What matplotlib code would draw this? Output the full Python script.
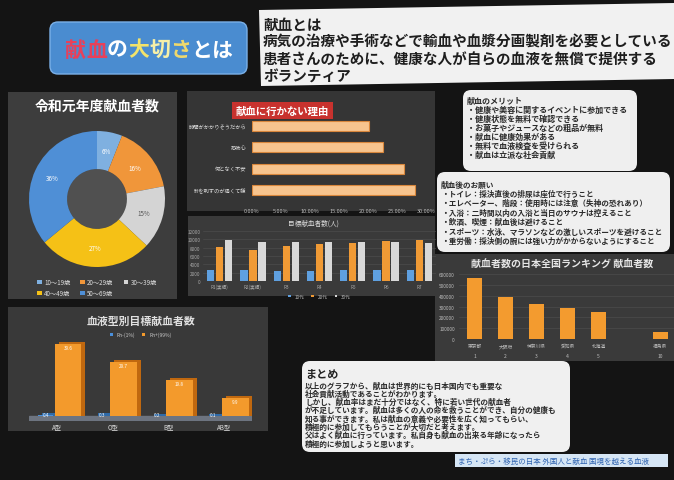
import numpy as np
import matplotlib
matplotlib.use('Agg')
import matplotlib.pyplot as plt
from matplotlib.patches import FancyBboxPatch, Polygon, Rectangle, Circle

plt.rcParams['font.family'] = ['Noto Sans CJK JP', 'DejaVu Sans']

W, H = 674, 481

# ---------------- data ----------------
title_chars = ['献', '血', 'の', '大', '切', 'さ', 'と', 'は']
title_colors = ['#e8405a', '#e8405a', '#ffffff', '#f3e36a', '#f6f0a8', '#efd86c', '#ffffff', '#ffffff']

intro_lines = ['献血とは',
               '病気の治療や手術などで輸血や血漿分画製剤を必要としている',
               '患者さんのために、健康な人が自らの血液を無償で提供する',
               'ボランティア']

age_groups = ['10〜19歳', '20〜29歳', '30〜39歳', '40〜49歳', '50〜69歳']
age_share = [6, 16, 15, 27, 36]
age_colors = ['#7fb0e0', '#f0963a', '#d4d4d4', '#f5c116', '#4f8fd6']

reasons = ['時間がかかりそうだから', '恐怖心', '何となく不安', '針を刺すのが痛くて嫌']
reason_share = [20.2, 22.6, 26.2, 28.1]

target_years = ['R1(実績)', 'R2(実績)', 'R3', 'R4', 'R5', 'R6', 'R7']
target_series = ['10代', '20代', '30代']
target_a = [2550, 2550, 2500, 2500, 2550, 2600, 2700]
target_b = [8250, 7350, 8500, 8800, 9050, 9500, 9850]
target_c = [9850, 9450, 9450, 9450, 9450, 9350, 9200]

blood_types = ['A型', 'O型', 'B型', 'AB型']
blood_series = ['Rh-(1%)', 'Rh+(99%)']
rh_neg = [0.4, 0.3, 0.2, 0.1]
rh_pos = [39.6, 29.7, 19.8, 9.9]

prefs = ['東京都', '大阪府', '神奈川県', '愛知県', '北海道', '', '福島県']
pref_rank = ['1', '2', '3', '4', '5', '', '10']
pref_donors = [560000, 390000, 323000, 290000, 252000, np.nan, 62000]

merit_lines = ['献血のメリット',
               '・健康や美容に関するイベントに参加できる',
               '・健康状態を無料で確認できる',
               '・お菓子やジュースなどの粗品が無料',
               '・献血に健康効果がある',
               '・無料で血液検査を受けられる',
               '・献血は立派な社会貢献']

request_lines = ['献血後のお願い',
                 '・トイレ：採決直後の排尿は座位で行うこと',
                 '・エレベーター、階段：使用時には注意（失神の恐れあり）',
                 '・入浴：二時間以内の入浴と当日のサウナは控えること',
                 '・飲酒、喫煙：献血後は避けること',
                 '・スポーツ：水泳、マラソンなどの激しいスポーツを避けること',
                 '・重労働：採決側の腕には強い力がかからないようにすること']

summary_title = 'まとめ'
summary_lines = ['以上のグラフから、献血は世界的にも日本国内でも重要な',
                 '社会貢献活動であることがわかります。',
                 'しかし、献血率はまだ十分ではなく、特に若い世代の献血者',
                 'が不足しています。献血は多くの人の命を救うことができ、自分の健康も',
                 '知る事ができます。私は献血の意義や必要性を広く知ってもらい、',
                 '積極的に参加してもらうことが大切だと考えます。',
                 '父はよく献血に行っています。私自身も献血の出来る年齢になったら',
                 '積極的に参加しようと思います。']

link_text = 'まち・ぷら・移民の日本 外国人と献血 国境を越える血液'

# ---------------- helpers ----------------
fig = plt.figure(figsize=(6.74, 4.81), dpi=100, facecolor='#141414')
bg = fig.add_axes([0, 0, 1, 1], zorder=0)
bg.set_xlim(0, W)
bg.set_ylim(H, 0)
bg.axis('off')


def rect(x0, y0, x1, y1):
    return [x0 / W, 1 - y1 / H, (x1 - x0) / W, (y1 - y0) / H]


def box(x0, y0, x1, y1, fc, r=0, ec='none', lw=0):
    if r > 0:
        p = FancyBboxPatch((x0, y0), x1 - x0, y1 - y0,
                           boxstyle=f'round,pad=0,rounding_size={r}',
                           fc=fc, ec=ec, lw=lw)
    else:
        p = Rectangle((x0, y0), x1 - x0, y1 - y0, fc=fc, ec=ec, lw=lw)
    bg.add_patch(p)


def clean(ax):
    ax.set_facecolor('none')
    for s in ax.spines.values():
        s.set_visible(False)


# ---------------- title block ----------------
box(50, 23, 247, 75, '#4a8cd0', r=8, ec='#7ab0e8', lw=1)
for i, (c, col) in enumerate(zip(title_chars, title_colors)):
    bg.text(75.5 + 21 * i, 50, c, color=col, fontsize=15, ha='center',
            va='center', fontweight='bold')

# ---------------- intro paper ----------------
bg.add_patch(Polygon([(259, 11), (674, 4), (674, 80), (261, 87)], closed=True,
                     fc='#f1f1f1', ec='none'))
for i, line in enumerate(intro_lines):
    bg.text(263, [25, 42, 60, 77][i], line, fontsize=10.5, color='#1e1e1e',
            va='center', ha='left', fontweight='bold')

# ---------------- donut panel ----------------
box(8, 93, 177, 300, '#3d3d3d')
bg.text(97, 107, '令和元年度献血者数', fontsize=10, fontweight='bold',
        color='white', ha='center', va='center')
pax = fig.add_axes(rect(29, 132, 165, 268), zorder=1)
wedges, _, autotexts = pax.pie(age_share, colors=age_colors, startangle=90,
                               counterclock=False, radius=1,
                               wedgeprops=dict(width=0.56, edgecolor='none'),
                               autopct=lambda p: f'{p:.0f}%', pctdistance=0.72,
                               textprops=dict(fontsize=4.5, color='white'))
autotexts[2].set_color('#555555')
pax.add_patch(Circle((0, 0), 0.44, fc='#505050', ec='none', zorder=0))
pax.set_xlim(-1, 1)
pax.set_ylim(-1, 1)
pax.set_aspect('equal')
order = [0, 3, 1, 4, 2]  # row-wise reading order for a 3-column legend
pax.legend([wedges[k] for k in order], [age_groups[k] for k in order], ncol=3,
           loc='upper center', bbox_to_anchor=(0.5, -0.04), frameon=False,
           fontsize=4.5, labelcolor='#dddddd', handlelength=0.7,
           handleheight=0.7, columnspacing=1.6, handletextpad=0.4,
           labelspacing=0.5)

# ---------------- horizontal bar panel ----------------
box(187, 92, 435, 212, '#353535')
box(232, 103, 333, 120, '#c8322e')
bg.text(282.5, 111.5, '献血に行かない理由', fontsize=7.5, color='white',
        fontweight='bold', ha='center', va='center')
hax = fig.add_axes(rect(252, 116, 426, 202), zorder=1)
clean(hax)
hax.barh(np.arange(len(reasons)), reason_share, height=0.48, color='#f7c48e',
         edgecolor='#d9873c', linewidth=0.8)
hax.set_ylim(len(reasons) - 0.5, -0.5)
hax.set_xlim(0, 30)
hax.set_xticks(np.arange(0, 31, 5))
hax.set_xticklabels([f'{v:.2f}%' for v in np.arange(0, 31, 5)])
hax.set_yticks(np.arange(len(reasons)))
hax.set_yticklabels(reasons)
hax.tick_params(axis='x', colors='#bbbbbb', labelsize=4, length=0, pad=5)
hax.tick_params(axis='y', colors='#dddddd', labelsize=3.8, length=0, pad=4)

# ---------------- grouped bar panel ----------------
box(188, 217, 435, 297, '#3a3a3a')
bg.text(313, 224, '目標献血者数(人)', fontsize=4.8, color='#dddddd',
        ha='center', va='center')
gax = fig.add_axes(rect(203, 232, 436, 282), zorder=1)
clean(gax)
gx = np.arange(len(target_years))
for off, vals, col, lab in zip([-0.27, 0, 0.27], [target_a, target_b, target_c],
                               ['#5fa0e0', '#f09a35', '#d8d8d8'], target_series):
    gax.bar(gx + off, vals, width=0.22, color=col, label=lab, zorder=2)
gax.set_xlim(-0.5, len(target_years) - 0.5)
gax.set_ylim(0, 12000)
gax.set_yticks(np.arange(0, 12001, 2000))
gax.grid(axis='y', color='#505050', lw=0.4, zorder=0)
gax.set_xticks(gx)
gax.set_xticklabels(target_years)
gax.tick_params(axis='both', colors='#aaaaaa', labelsize=3.3, length=0, pad=2)
gax.legend(ncol=3, loc='upper center', bbox_to_anchor=(0.5, -0.17),
           frameon=False, fontsize=3.3, labelcolor='#bbbbbb',
           handlelength=0.6, handleheight=0.6, columnspacing=1.5)

# ---------------- blood type panel ----------------
box(8, 308, 268, 432, '#393939')
bg.text(141, 322, '血液型別目標献血者数', fontsize=7.8, fontweight='bold',
        color='#e0e0e0', ha='center', va='center')
bax = fig.add_axes(rect(29, 340, 252, 422), zorder=1)
clean(bax)
bx = np.arange(len(blood_types))
bax.axhspan(-2.7, 0, color='#6d7480', zorder=0)
hb = []
for off, wd, vals, col, side in zip([-0.2, 0.2], [0.27, 0.48], [rh_neg, rh_pos],
                                    ['#4a90dc', '#f39a2c'], ['#2f6aa8', '#c0680f']):
    bax.bar(bx + off + 0.07, np.array(vals) + 1.2, width=wd, color=side, zorder=1)
    hb.append(bax.bar(bx + off, vals, width=wd, color=col, zorder=2))
for i in range(len(blood_types)):
    bax.text(bx[i] - 0.2, 0.7, f'{rh_neg[i]}', fontsize=3.3, color='white',
             ha='center', va='center', zorder=3)
    bax.text(bx[i] + 0.2, rh_pos[i] - 1.8, f'{rh_pos[i]}', fontsize=3.3,
             color='white', ha='center', va='center', zorder=3)
bax.set_xlim(-0.5, len(blood_types) - 0.5)
bax.set_ylim(-2.7, 42.2)
bax.set_yticks([])
bax.set_xticks(bx)
bax.set_xticklabels(blood_types)
bax.tick_params(axis='x', colors='#dddddd', labelsize=4.5, length=0, pad=1)
bax.legend(hb, blood_series, ncol=2, loc='lower center',
           bbox_to_anchor=(0.5, 0.97), frameon=False, fontsize=3.5,
           labelcolor='#cccccc', handlelength=0.6, handleheight=0.6,
           columnspacing=1.5)

# ---------------- ranking panel ----------------
box(435, 255, 674, 362, '#3a3a3a')
bg.text(562, 265, '献血者数の日本全国ランキング 献血者数', fontsize=7.2,
        fontweight='bold', color='#e6e6e6', ha='center', va='center')
rax = fig.add_axes(rect(459, 275, 676, 340), zorder=1)
clean(rax)
rx = np.arange(len(prefs))
rax.bar(rx, pref_donors, width=0.48, color='#f39b2f', zorder=2)
rax.set_xlim(-0.5, len(prefs) - 0.5)
rax.set_ylim(0, 600000)
rax.set_yticks(np.arange(0, 600001, 100000))
rax.set_yticklabels([f'{v:d}' for v in range(0, 600001, 100000)])
rax.grid(axis='y', color='#505050', lw=0.4, zorder=0)
rax.set_xticks(rx)
rax.set_xticklabels(prefs)
rax.tick_params(axis='both', colors='#bbbbbb', labelsize=3.4, length=0, pad=3)
for i, r in enumerate(pref_rank):
    rax.text(rx[i], -0.26, r, transform=rax.get_xaxis_transform(), fontsize=3.6,
             color='#bbbbbb', ha='center', va='center')

# ---------------- text boxes ----------------
box(463, 91, 637, 172, '#efefef', r=8)
for i, line in enumerate(merit_lines):
    bg.text(467, 101 + 9.1 * i, line, fontsize=5.8, color='#2a2a2a',
            va='center', ha='left', fontweight='bold')

box(437, 173, 670, 253, '#efefef', r=8)
for i, line in enumerate(request_lines):
    bg.text(441, 185 + 9.4 * i, line, fontsize=5.5, color='#2a2a2a',
            va='center', ha='left', fontweight='bold')

box(302, 362, 570, 453, '#f0f0f0', r=8)
bg.text(305, 375, summary_title, fontsize=8, color='#222222', va='center',
        ha='left', fontweight='bold')
for i, line in enumerate(summary_lines):
    bg.text(305, 386 + 8.3 * i, line, fontsize=5.5, color='#2a2a2a',
            va='center', ha='left', fontweight='bold')

box(455, 455, 668, 468, '#d6e6f5')
bg.text(458, 461.5, link_text, fontsize=5.4, color='#2f63b0', va='center',
        ha='left')

fig.savefig('out.png', dpi=100, facecolor=fig.get_facecolor())
